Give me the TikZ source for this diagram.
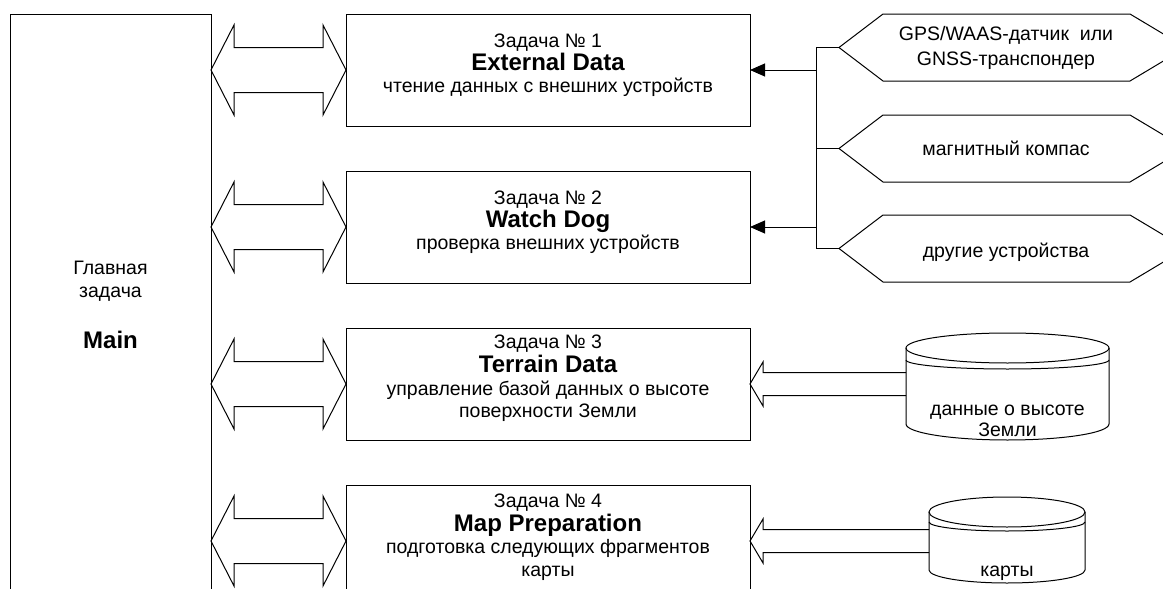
\documentclass[tikz,border=0pt]{standalone}
\usepackage{fontspec}
\setmainfont{Liberation Sans}
\usetikzlibrary{arrows.meta,calc}
\newcommand{\fl}{\rule{0pt}{15pt}}
\newcommand{\bt}[1]{{\bfseries\fontsize{24}{27}\selectfont #1}}
\begin{document}
\begin{tikzpicture}[x=1pt,y=-1pt,
  ln/.style={draw=black, line width=1pt, line join=miter},
  blk/.style={draw=black, line width=1pt, inner sep=0pt, outer sep=0pt, anchor=north west},
  ghost/.style={draw=none, inner sep=0pt, outer sep=0pt, anchor=north west},
  txt/.style={font=\fontsize{19.5}{23}\selectfont, align=center, inner sep=0pt, anchor=north},
  tip/.style={-{Triangle[length=15pt,width=13pt]}}]
\path[use as bounding box] (0,0) rectangle (1163,589);
\clip (0,0) rectangle (1163,589);

% main task
\node[blk, minimum width=201pt, minimum height=640pt] (main) at (10,14) {};
\node[txt] (mainl) at (110.5,259) {\fl Главная\\задача\\[28pt]\bt{Main}};

% task boxes
\node[blk, minimum width=404pt, minimum height=112pt] (t1) at (346,14) {};
\node[blk, minimum width=404pt, minimum height=112pt] (t2) at (346,171) {};
\node[blk, minimum width=404pt, minimum height=112pt] (t3) at (346,328) {};
\node[blk, minimum width=404pt, minimum height=112pt] (t4) at (346,485) {};

\node[txt] (t1l) at ($(t1.north)+(0,18.5)$) {\fl Задача № 1\\[-0.5pt]\bt{External Data}\\[-1pt]чтение данных с внешних устройств};
\node[txt] (t2l) at ($(t2.north)+(0,18.5)$) {\fl Задача № 2\\[-0.5pt]\bt{Watch Dog}\\[-1pt]проверка внешних устройств};
\node[txt] (t3l) at ($(t3.north)+(0,5.5)$) {\fl Задача № 3\\[1pt]\bt{Terrain Data}\\[-0.5pt]управление базой данных о высоте\\[-0.5pt]поверхности Земли};
\node[txt] (t4l) at ($(t4.north)+(0,7)$) {\fl Задача № 4\\[1pt]\bt{Map Preparation}\\[-0.5pt]подготовка следующих фрагментов\\[-0.5pt]карты};

% double arrows main <-> tasks
\foreach \i in {1,2,3,4}{
  \draw[ln] (t\i.west -| main.east) -- ++(23,-45) -- ++(0,22.5) -- ++(89,0) -- ++(0,-22.5)
    -- (t\i.west) -- ++(-23,45) -- ++(0,-22.5) -- ++(-89,0) -- ++(0,22.5) -- cycle;
}

% devices (hexagons)
\node[ghost, minimum width=347pt, minimum height=67pt] (h1) at (839,14) {};
\node[ghost, minimum width=347pt, minimum height=67pt] (h2) at (839,115) {};
\node[ghost, minimum width=347pt, minimum height=67pt] (h3) at (839,215) {};
\foreach \h in {h1,h2,h3}{
  \draw[ln] (\h.west) -- ([xshift=44pt]\h.north west) -- ([xshift=-56pt]\h.north east) -- (\h.east)
    -- ([xshift=-56pt]\h.south east) -- ([xshift=44pt]\h.south west) -- cycle;
}
\node[txt, font=\fontsize{19.5}{25}\selectfont] (h1l) at (1006,25) {\fl GPS/WAAS-датчик~ или\\GNSS-транспондер};
\node[txt] (h2l) at (1006,140) {\fl магнитный компас};
\node[txt] (h3l) at (1006,242) {\fl другие устройства};

% bus
\coordinate (bus) at (816,0);
\draw[ln] (h1.west) -- (h1.west -| bus) -- (h3.west -| bus) -- (h3.west);
\draw[ln] (h2.west -| bus) -- (h2.west);
\draw[ln, tip] (t1.east -| bus) -- (t1.east);
\draw[ln, tip] (t2.east -| bus) -- (t2.east);

% databases (cylinders)
\node[ghost, minimum width=203pt, minimum height=107pt] (c1) at (906,333) {};
\draw[ln] ([yshift=-15pt]c1.north) ellipse [x radius=101.5pt, y radius=15pt];
\draw[ln] ([yshift=-27pt]c1.north west) arc[start angle=180, end angle=360, x radius=101.5pt, y radius=9pt];
\draw[ln] ([yshift=-15pt]c1.north west) -- ([yshift=16pt]c1.south west)
  arc[start angle=180, end angle=360, x radius=101.5pt, y radius=16pt] -- ([yshift=-15pt]c1.north east);
\node[txt, font=\fontsize{19.5}{21}\selectfont] (c1l) at (1007.5,400.5) {\fl данные о высоте\\Земли};

\node[ghost, minimum width=156pt, minimum height=86pt] (c2) at (929,497) {};
\draw[ln] ([yshift=-15pt]c2.north) ellipse [x radius=78pt, y radius=15pt];
\draw[ln] ([yshift=-25pt]c2.north west) arc[start angle=180, end angle=360, x radius=78pt, y radius=9pt];
\draw[ln] ([yshift=-15pt]c2.north west) -- ([yshift=13pt]c2.south west)
  arc[start angle=180, end angle=360, x radius=78pt, y radius=13pt] -- ([yshift=-15pt]c2.north east);
\node[txt] (c2l) at (1007,561) {\fl карты};

% hollow arrows database -> task
\coordinate (a3u) at ($(t3.east)+(13,-11.5)$);
\coordinate (a3d) at ($(t3.east)+(13,11.5)$);
\draw[ln] (a3u -| c1.west) -- (a3u) -- ++(0,-10.5) -- (t3.east) -- ++(13,22) -- ++(0,-10.5) -- (a3d -| c1.west);
\coordinate (a4u) at ($(t4.east)+(13,-11.5)$);
\coordinate (a4d) at ($(t4.east)+(13,11.5)$);
\draw[ln] (a4u -| c2.west) -- (a4u) -- ++(0,-10.5) -- (t4.east) -- ++(13,22) -- ++(0,-10.5) -- (a4d -| c2.west);
\end{tikzpicture}
\end{document}
